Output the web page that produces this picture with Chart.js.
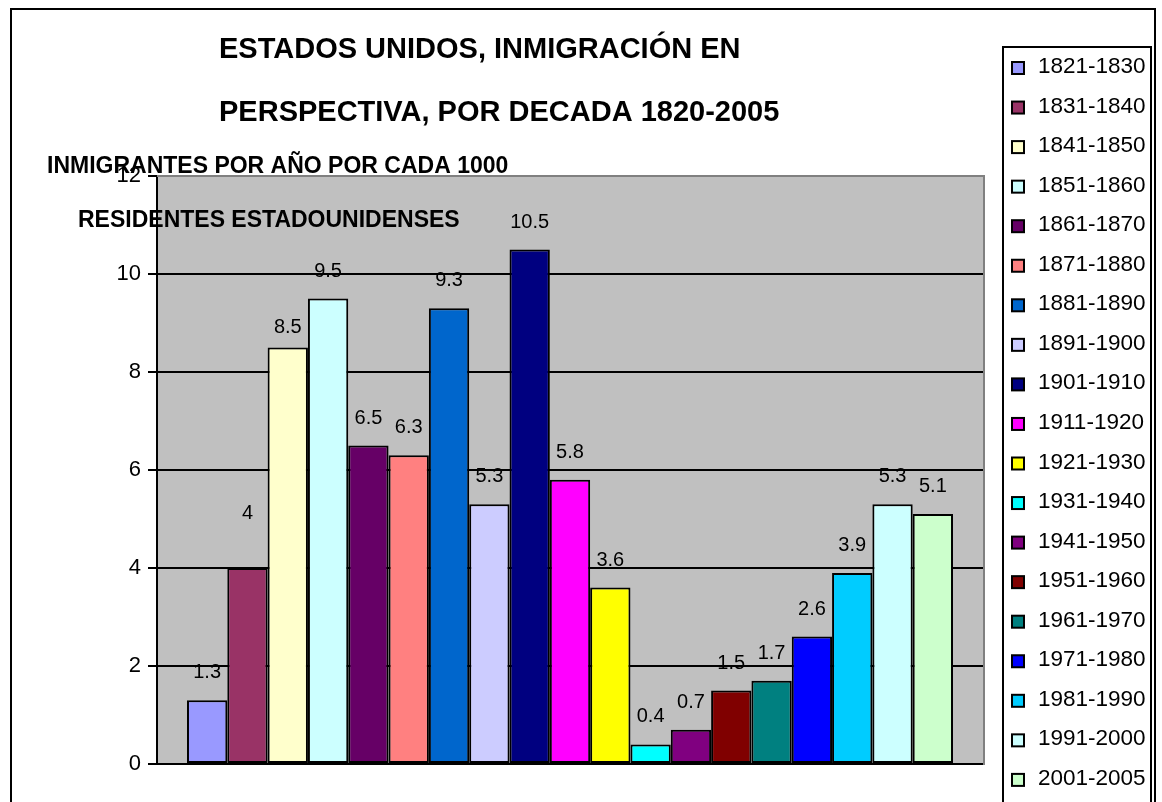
<!DOCTYPE html>
<html>
<head>
<meta charset="utf-8">
<title>Estados Unidos, inmigración en perspectiva</title>
<script src="https://cdn.jsdelivr.net/npm/chart.js@4.4.1/dist/chart.umd.min.js"></script>
<style>
  html, body { margin: 0; padding: 0; background: #fff; }
  canvas { display: block; }
</style>
</head>
<body>
<canvas id="immigration-chart" width="1162" height="802"></canvas>
<script>
// Decades (one series each) and immigrants per year per 1000 residents
const decades = ['1821-1830', '1831-1840', '1841-1850', '1851-1860', '1861-1870',
    '1871-1880', '1881-1890', '1891-1900', '1901-1910', '1911-1920', '1921-1930',
    '1931-1940', '1941-1950', '1951-1960', '1961-1970', '1971-1980', '1981-1990',
    '1991-2000', '2001-2005'];
const rates = [1.3, 4, 8.5, 9.5, 6.5, 6.3, 9.3, 5.3, 10.5, 5.8, 3.6,
    0.4, 0.7, 1.5, 1.7, 2.6, 3.9, 5.3, 5.1];
const barColors = ['#9999FF', '#993366', '#FFFFCC', '#CCFFFF', '#660066',
    '#FF8080', '#0066CC', '#CCCCFF', '#000080', '#FF00FF', '#FFFF00',
    '#00FFFF', '#800080', '#800000', '#008080', '#0000FF', '#00CCFF',
    '#CCFFFF', '#CCFFCC'];
const yTicks = [0, 2, 4, 6, 8, 10, 12];

const titleLines = ['ESTADOS UNIDOS, INMIGRACIÓN EN', 'PERSPECTIVA, POR DECADA 1820-2005'];
const axisTitleLines = ['INMIGRANTES POR AÑO POR CADA 1000', 'RESIDENTES ESTADOUNIDENSES'];

const FONT = '"Liberation Sans", Arial, sans-serif';

document.addEventListener('DOMContentLoaded', function() {
    const canvas = document.getElementById('immigration-chart');

    const datasets = decades.map(function(label, i) {
        return {
            label: label,
            data: [rates[i]],
            backgroundColor: barColors[i],
            borderColor: '#000',
            borderWidth: 2,
            borderSkipped: false
        };
    });

    // white page, outer frame and grey plot background
    const framePlugin = {
        id: 'frame',
        beforeDraw(chart) {
            const ctx = chart.ctx;
            const a = chart.chartArea;
            ctx.save();
            ctx.fillStyle = '#fff';
            ctx.fillRect(0, 0, chart.width, chart.height);
            ctx.strokeStyle = '#000';
            ctx.lineWidth = 2;
            ctx.strokeRect(11, 9, 1144, 820);
            ctx.fillStyle = '#C0C0C0';
            ctx.fillRect(a.left, a.top, a.right - a.left, a.bottom - a.top);
            ctx.restore();
        },
        afterDraw(chart) {
            const ctx = chart.ctx;
            const a = chart.chartArea;
            ctx.save();
            // plot border (grey top/right)
            ctx.strokeStyle = '#808080';
            ctx.lineWidth = 2;
            ctx.beginPath();
            ctx.moveTo(a.left, a.top);
            ctx.lineTo(a.right + 1, a.top);
            ctx.lineTo(a.right + 1, a.bottom + 1);
            ctx.stroke();
            // base line
            ctx.strokeStyle = '#000';
            ctx.beginPath();
            ctx.moveTo(a.left - 9, a.bottom);
            ctx.lineTo(a.right, a.bottom);
            ctx.stroke();

            // chart title
            ctx.fillStyle = '#000';
            ctx.textAlign = 'left';
            ctx.textBaseline = 'alphabetic';
            ctx.font = 'bold 29px ' + FONT;
            ctx.fillText(titleLines[0], 219, 58);
            ctx.fillText(titleLines[1], 219, 121);

            // value axis title
            ctx.font = 'bold 23px ' + FONT;
            ctx.fillText(axisTitleLines[0], 47, 173);
            ctx.fillText(axisTitleLines[1], 78, 227);

            // legend
            ctx.strokeStyle = '#000';
            ctx.lineWidth = 2;
            ctx.strokeRect(1003, 47, 148, 780);
            ctx.font = '22.5px ' + FONT;
            chart.data.datasets.forEach(function(ds, i) {
                const base = 73 + i * 39.55;
                ctx.fillStyle = ds.backgroundColor;
                ctx.fillRect(1012, base - 11, 12, 12);
                ctx.lineWidth = 2;
                ctx.strokeRect(1012, base - 11, 12, 12);
                ctx.fillStyle = '#000';
                ctx.fillText(ds.label, 1038, base);
            });
            ctx.restore();
        }
    };

    // value labels above each bar
    const labelNudge = { 1: -27, 2: 7 };
    const valueLabelPlugin = {
        id: 'valueLabels',
        afterDatasetsDraw(chart) {
            const ctx = chart.ctx;
            ctx.save();
            ctx.font = '20px ' + FONT;
            ctx.fillStyle = '#000';
            ctx.textAlign = 'center';
            ctx.textBaseline = 'alphabetic';
            chart.data.datasets.forEach(function(ds, i) {
                const bar = chart.getDatasetMeta(i).data[0];
                const dy = labelNudge[i] || 0;
                ctx.fillText(String(ds.data[0]), bar.x, bar.y - 22 + dy);
            });
            ctx.restore();
        }
    };

    new Chart(canvas, {
        type: 'bar',
        data: {
            labels: [''],
            datasets: datasets
        },
        options: {
            responsive: false,
            animation: false,
            devicePixelRatio: 1,
            layout: {
                padding: { left: 117, top: 176, right: 179, bottom: 38 }
            },
            datasets: {
                bar: { categoryPercentage: 0.9274, barPercentage: 1.0 }
            },
            plugins: {
                legend: { display: false },
                title: { display: false },
                tooltip: { enabled: false }
            },
            scales: {
                x: { display: false },
                y: {
                    min: 0,
                    max: 12,
                    afterFit: function(scale) { scale.width = 40; },
                    afterBuildTicks: function(scale) {
                        scale.ticks = yTicks.map(function(v) { return { value: v }; });
                    },
                    border: { display: true, color: '#000', width: 2 },
                    grid: {
                        color: function(c) { return c.tick && c.tick.value === 12 ? '#808080' : '#000'; },
                        tickColor: '#000',
                        lineWidth: 2,
                        tickLength: 9
                    },
                    ticks: {
                        color: '#000',
                        padding: 7,
                        font: { family: FONT, size: 22 }
                    }
                }
            }
        },
        plugins: [framePlugin, valueLabelPlugin]
    });
});
</script>
</body>
</html>
